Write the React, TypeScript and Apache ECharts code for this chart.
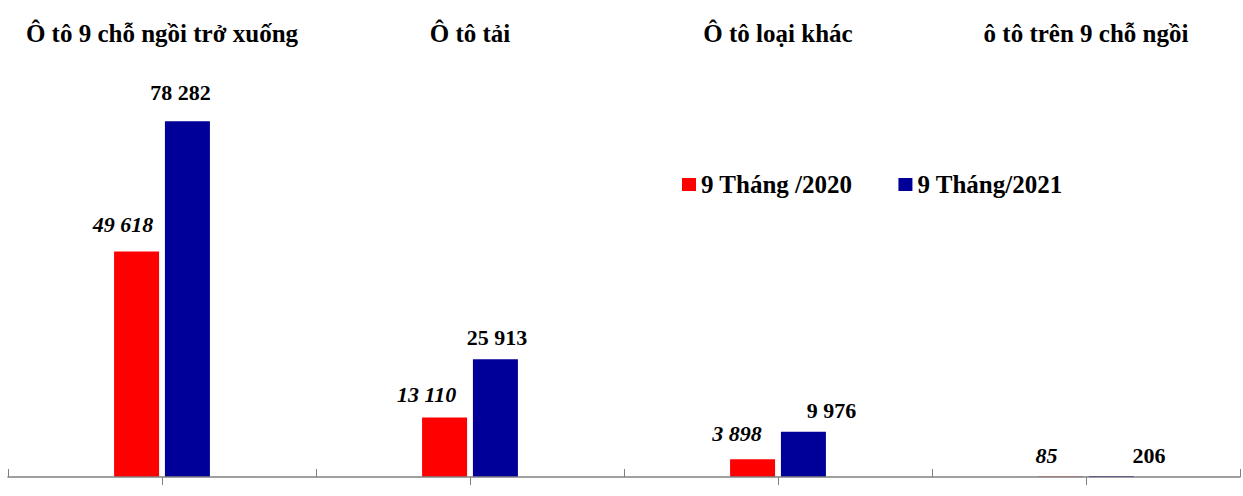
import React, { useEffect, useRef } from 'react'
import * as echarts from 'echarts'

const categories = ['Ô tô 9 chỗ ngồi trở xuống', 'Ô tô tải', 'Ô tô loại khác', 'ô tô trên 9 chỗ ngồi']
const seriesNames = ['9 Tháng /2020', '9 Tháng/2021']
const values2020 = [49618, 13110, 3898, 85]
const values2021 = [78282, 25913, 9976, 206]

// hand-placed label nudges (px), like the original chart
const labelShift2020 = [[-13.5, -16], [-18, -11.5], [-15.5, -15], [-14, -10.5]]
const labelShift2021 = [[-7, -18], [1.5, -11], [28, -10.5], [37.5, -10]]

const FONT = "'Liberation Serif', 'Times New Roman', serif"

const fmt = (v: number) => String(v).replace(/\B(?=(\d{3})+(?!\d))/g, ' ')

export default function App() {
  const chartRef = useRef<HTMLDivElement>(null)

  useEffect(() => {
    if (!chartRef.current) {
      return
    }
    const chart = echarts.init(chartRef.current, null, { renderer: 'svg' })

    const makeSeries = (name: string, values: number[], shifts: number[][], color: string, italic: boolean) => ({
      name,
      type: 'bar',
      xAxisIndex: 0,
      z: 2,
      barWidth: 45,
      barGap: '13%',
      itemStyle: { color },
      data: values.map((v, i) => ({
        value: v,
        label: { offset: shifts[i] }
      })),
      label: {
        show: true,
        position: 'top',
        distance: 0,
        fontFamily: FONT,
        fontSize: 22,
        fontWeight: 'bold',
        fontStyle: italic ? 'italic' : 'normal',
        color: '#000000',
        formatter: (p: any) => fmt(p.value)
      }
    })

    chart.setOption({
      animation: false,
      textStyle: { fontFamily: FONT },
      grid: {
        left: 8,
        right: 3,
        top: 68,
        bottom: 19
      },
      legend: {
        left: 682,
        top: 172,
        padding: 0,
        itemWidth: 14,
        itemHeight: 13,
        itemGap: 46,
        icon: 'rect',
        data: seriesNames,
        textStyle: {
          fontFamily: FONT,
          fontSize: 25,
          fontWeight: 'bold',
          color: '#000000'
        }
      },
      xAxis: [
        {
          type: 'category',
          data: categories,
          position: 'bottom',
          z: 10,
          axisLine: { show: true, lineStyle: { color: '#808080', width: 1.5 } },
          axisTick: { show: true, interval: 0, inside: true, length: 8, lineStyle: { color: '#808080', width: 1 } },
          axisLabel: { show: false }
        },
        {
          type: 'category',
          data: categories,
          position: 'bottom',
          z: 10,
          axisLine: { show: false },
          axisTick: { show: true, interval: 0, alignWithLabel: true, length: 8, lineStyle: { color: '#808080', width: 1 } },
          axisLabel: { show: false }
        },
        {
          type: 'category',
          data: categories,
          position: 'top',
          axisLine: { show: false },
          axisTick: { show: false },
          axisLabel: {
            interval: 0,
            margin: 35,
            verticalAlign: 'middle',
            fontFamily: FONT,
            fontSize: 25,
            fontWeight: 'bold',
            color: '#000000'
          }
        }
      ],
      yAxis: {
        type: 'value',
        min: 0,
        max: 90000,
        show: false,
        splitLine: { show: false }
      },
      series: [
        makeSeries(seriesNames[0], values2020, labelShift2020, '#FF0000', true),
        makeSeries(seriesNames[1], values2021, labelShift2021, '#000099', false)
      ]
    })

    return () => {
      chart.dispose()
    }
  }, [])

  return (
    <div
      ref={chartRef}
      style={{ position: 'absolute', left: 0, top: 0, width: 1243, height: 496, background: '#ffffff' }}
    />
  )
}
